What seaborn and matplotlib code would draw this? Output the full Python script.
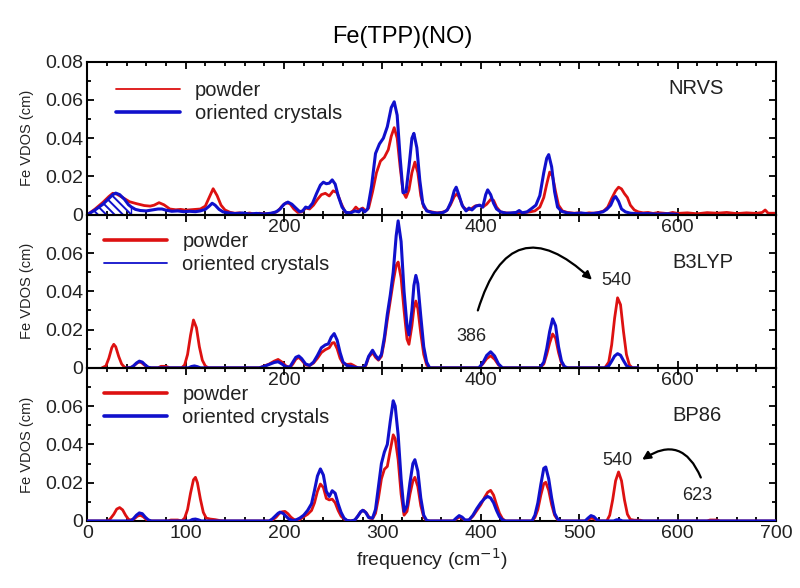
import numpy as np
import matplotlib
matplotlib.use("Agg")
import matplotlib.pyplot as plt
from matplotlib.lines import Line2D
from matplotlib.ticker import MultipleLocator
import seaborn as sns


# values: (frequency cm-1, Fe VDOS cm)

nrvs_powder = [
    (0, 0), (8, 0.003), (16, 0.0065), (22, 0.0095), (26, 0.0112), (30, 0.0108),
    (36, 0.009), (43, 0.0068), (50, 0.0058), (58, 0.0048), (64, 0.0045), (68, 0.005),
    (73, 0.0063), (78, 0.0052), (84, 0.003), (90, 0.0026), (95, 0.0028), (100, 0.0024),
    (105, 0.0026), (110, 0.0028), (115, 0.003), (120, 0.0045), (124, 0.009), (128, 0.0136),
    (132, 0.01), (136, 0.005), (140, 0.0025), (145, 0.0013), (150, 0.0008), (155, 0.001),
    (160, 0.0005), (165, 0.0009), (170, 0.0004), (175, 0.0008), (180, 0.0005), (185, 0.0006),
    (190, 0.001), (194, 0.002), (198, 0.0045), (202, 0.0062), (206, 0.0058), (210, 0.003),
    (214, 0.0012), (218, 0.0015), (222, 0.0035), (226, 0.003), (230, 0.005), (234, 0.008),
    (238, 0.0105), (242, 0.0112), (246, 0.0098), (250, 0.0125), (254, 0.0115), (258, 0.006),
    (262, 0.0015), (266, 0.0008), (270, 0.002), (273, 0.004), (276, 0.0025), (280, 0.0035),
    (283, 0.002), (286, 0.0035), (290, 0.012), (294, 0.022), (298, 0.028), (302, 0.03),
    (306, 0.034), (309, 0.041), (312, 0.0455), (315, 0.04), (318, 0.025), (321, 0.012),
    (324, 0.009), (327, 0.013), (330, 0.022), (333, 0.0275), (336, 0.022), (339, 0.01),
    (342, 0.004), (346, 0.002), (350, 0.0015), (355, 0.001), (360, 0.0012), (365, 0.002),
    (369, 0.005), (373, 0.0095), (376, 0.011), (379, 0.008), (382, 0.004), (386, 0.0025),
    (390, 0.003), (394, 0.0045), (398, 0.005), (402, 0.004), (406, 0.0055), (410, 0.008),
    (413, 0.0075), (416, 0.004), (420, 0.0015), (425, 0.001), (430, 0.0008), (435, 0.001),
    (440, 0.0005), (445, 0.0012), (450, 0.0015), (455, 0.002), (460, 0.004), (464, 0.009),
    (467, 0.016), (470, 0.0223), (473, 0.02), (476, 0.012), (479, 0.005), (483, 0.002),
    (488, 0.0012), (495, 0.0008), (500, 0.001), (505, 0.0006), (510, 0.001), (515, 0.0008),
    (520, 0.0012), (525, 0.002), (529, 0.004), (533, 0.0085), (537, 0.0125), (540, 0.0144),
    (543, 0.0135), (546, 0.011), (549, 0.009), (552, 0.005), (556, 0.0025), (560, 0.0015),
    (565, 0.001), (570, 0.0012), (575, 0.0007), (580, 0.0011), (590, 0.0006), (595, 0.0012),
    (600, 0.0007), (610, 0.001), (620, 0.0005), (630, 0.0011), (640, 0.0008), (650, 0.0012),
    (660, 0.0006), (670, 0.001), (680, 0.0007), (686, 0.0012), (689, 0.0025), (692, 0.0008),
    (700, 0.0008),
]

nrvs_crystal = [
    (0, 0), (8, 0.0025), (16, 0.0055), (22, 0.0085), (26, 0.0105), (29, 0.0113),
    (33, 0.0105), (38, 0.008), (42, 0.0052), (45, 0.004), (49, 0.0028), (54, 0.0022),
    (60, 0.002), (66, 0.0025), (72, 0.003), (76, 0.003), (80, 0.0024), (86, 0.0018),
    (92, 0.002), (98, 0.0016), (104, 0.0018), (110, 0.0016), (115, 0.002), (120, 0.0028),
    (124, 0.0045), (127, 0.006), (130, 0.005), (134, 0.0028), (138, 0.0015), (143, 0.001),
    (150, 0.0006), (158, 0.0009), (165, 0.0004), (172, 0.0007), (180, 0.0004), (187, 0.0008),
    (192, 0.0015), (196, 0.003), (200, 0.0055), (204, 0.0066), (208, 0.0055), (212, 0.0035),
    (216, 0.0016), (219, 0.002), (222, 0.004), (225, 0.0035), (229, 0.006), (233, 0.011),
    (237, 0.0155), (240, 0.017), (243, 0.0162), (246, 0.0165), (249, 0.0182), (252, 0.016),
    (255, 0.01), (259, 0.004), (263, 0.0012), (268, 0.001), (272, 0.002), (276, 0.0015),
    (279, 0.003), (282, 0.0015), (285, 0.003), (289, 0.015), (293, 0.032), (297, 0.037),
    (301, 0.04), (305, 0.046), (309, 0.056), (312, 0.059), (315, 0.052), (318, 0.03),
    (321, 0.0115), (324, 0.012), (327, 0.025), (330, 0.04), (332, 0.0425), (335, 0.035),
    (338, 0.018), (341, 0.006), (345, 0.002), (350, 0.0012), (356, 0.0008), (362, 0.0012),
    (366, 0.0025), (370, 0.007), (373, 0.0125), (375, 0.0144), (378, 0.01), (381, 0.005),
    (385, 0.002), (388, 0.0035), (391, 0.0025), (395, 0.0045), (399, 0.005), (402, 0.004),
    (405, 0.0105), (407, 0.013), (410, 0.0105), (413, 0.006), (416, 0.003), (420, 0.0015),
    (426, 0.0008), (432, 0.001), (436, 0.0012), (439, 0.0022), (442, 0.001), (447, 0.0015),
    (451, 0.003), (456, 0.005), (460, 0.01), (464, 0.022), (467, 0.0295), (469, 0.0314),
    (472, 0.025), (475, 0.012), (478, 0.004), (482, 0.0018), (488, 0.0009), (495, 0.0006),
    (502, 0.0009), (510, 0.0005), (518, 0.0009), (524, 0.0015), (528, 0.0028), (532, 0.005),
    (535, 0.0085), (537, 0.0095), (540, 0.007), (543, 0.003), (547, 0.0015), (552, 0.0008),
    (560, 0.0005), (570, 0.0006), (580, 0.0003), (590, 0.0005), (600, 0.0002),
]

b3lyp_powder = [
    (15, 0), (19, 0.001), (22, 0.005), (25, 0.0105), (27, 0.0123), (29, 0.011),
    (32, 0.006), (35, 0.002), (38, 0.0003), (42, 0), (46, 0.0005), (49, 0.0018),
    (52, 0.003), (55, 0.0028), (58, 0.0015), (61, 0.0004), (64, 0), (72, 0),
    (75, 0.0008), (80, 0.0008), (84, 0), (96, 0), (99, 0.0015), (102, 0.007),
    (105, 0.017), (108, 0.025), (111, 0.021), (114, 0.011), (117, 0.004), (120, 0.001),
    (123, 0), (175, 0), (180, 0.001), (185, 0.002), (190, 0.0035), (194, 0.0044),
    (198, 0.003), (202, 0.001), (206, 0.0002), (209, 0.002), (212, 0.0045), (215, 0.0055),
    (218, 0.004), (222, 0.0015), (226, 0.0012), (230, 0.0025), (234, 0.005), (238, 0.008),
    (242, 0.0095), (246, 0.0105), (249, 0.013), (251, 0.0132), (254, 0.01), (257, 0.005),
    (260, 0.0023), (264, 0.0018), (268, 0.002), (271, 0.0012), (275, 0), (279, 0),
    (283, 0.001), (286, 0.0055), (290, 0.008), (293, 0.0055), (296, 0.004), (299, 0.006),
    (302, 0.014), (305, 0.025), (308, 0.035), (311, 0.045), (314, 0.0535), (316, 0.0553),
    (319, 0.047), (322, 0.03), (325, 0.015), (327, 0.0123), (330, 0.022), (332, 0.031),
    (334, 0.0349), (336, 0.031), (339, 0.018), (342, 0.007), (345, 0.0015), (348, 0),
    (398, 0), (402, 0.002), (406, 0.0048), (410, 0.0063), (414, 0.0045), (418, 0.0015),
    (422, 0), (460, 0), (464, 0.002), (467, 0.007), (470, 0.013), (473, 0.0177),
    (476, 0.0155), (479, 0.008), (482, 0.0025), (485, 0.0005), (488, 0), (526, 0),
    (530, 0.003), (533, 0.012), (536, 0.026), (539, 0.0366), (542, 0.033), (545, 0.019),
    (548, 0.007), (551, 0.0015), (554, 0), (560, 0),
]

b3lyp_crystal = [
    (40, 0), (44, 0), (47, 0.001), (50, 0.0025), (53, 0.0035), (56, 0.003),
    (59, 0.0015), (62, 0.0003), (65, 0), (103, 0), (106, 0.0007), (109, 0.001),
    (112, 0.0006), (115, 0), (175, 0), (180, 0.0008), (185, 0.0018), (190, 0.0028),
    (194, 0.0032), (198, 0.002), (202, 0.0005), (206, 0.0005), (209, 0.003), (212, 0.0055),
    (215, 0.0062), (218, 0.0048), (222, 0.002), (226, 0.0013), (230, 0.003), (234, 0.0065),
    (238, 0.0105), (242, 0.012), (245, 0.0125), (248, 0.016), (251, 0.0179), (254, 0.0145),
    (257, 0.008), (260, 0.003), (264, 0.0012), (268, 0.0008), (272, 0.0003), (276, 0),
    (280, 0), (283, 0.0015), (286, 0.006), (290, 0.0092), (293, 0.0065), (296, 0.0045),
    (299, 0.007), (302, 0.016), (305, 0.028), (308, 0.038), (311, 0.05), (314, 0.069),
    (316, 0.0768), (319, 0.066), (322, 0.04), (325, 0.022), (327, 0.0172), (330, 0.03),
    (332, 0.043), (334, 0.0483), (336, 0.044), (339, 0.027), (342, 0.011), (345, 0.003),
    (348, 0), (398, 0), (402, 0.0025), (406, 0.0065), (410, 0.0084), (414, 0.0062),
    (418, 0.002), (422, 0), (460, 0), (464, 0.003), (467, 0.01), (470, 0.019),
    (473, 0.0256), (476, 0.022), (479, 0.011), (482, 0.0035), (485, 0.0007), (488, 0),
    (526, 0), (530, 0.001), (533, 0.0035), (536, 0.0062), (539, 0.0074), (542, 0.0066),
    (545, 0.0038), (548, 0.0012), (551, 0.0002), (554, 0), (560, 0),
]

bp86_powder = [
    (0, 0), (20, 0), (23, 0.0008), (27, 0.0035), (30, 0.0062), (33, 0.007),
    (36, 0.0058), (39, 0.003), (42, 0.0008), (45, 0.0005), (48, 0.0012), (51, 0.0025),
    (54, 0.003), (57, 0.0022), (60, 0.0008), (63, 0.0001), (66, 0), (82, 0),
    (85, 0.0005), (92, 0.0005), (96, 0), (99, 0.0015), (102, 0.006), (105, 0.0145),
    (108, 0.0215), (110, 0.0228), (112, 0.02), (115, 0.0115), (118, 0.0045), (121, 0.0015),
    (125, 0.001), (130, 0.0007), (135, 0.0002), (140, 0), (185, 0), (189, 0.0008),
    (192, 0.002), (195, 0.0038), (198, 0.0048), (201, 0.005), (204, 0.0038), (207, 0.002),
    (210, 0.0008), (213, 0.0003), (216, 0.0008), (220, 0.0022), (224, 0.0035), (228, 0.0055),
    (231, 0.0095), (234, 0.0155), (237, 0.0193), (240, 0.0175), (243, 0.0118), (246, 0.011),
    (249, 0.0114), (252, 0.0095), (255, 0.0055), (258, 0.0025), (261, 0.001), (264, 0.0002),
    (268, 0), (272, 0.0005), (275, 0.0025), (278, 0.0048), (281, 0.0055), (284, 0.004),
    (287, 0.0015), (290, 0.0012), (293, 0.004), (296, 0.012), (299, 0.022), (302, 0.027),
    (305, 0.0285), (308, 0.037), (311, 0.045), (313, 0.043), (316, 0.032), (319, 0.014),
    (322, 0.003), (325, 0.005), (328, 0.014), (331, 0.021), (333, 0.0228), (336, 0.018),
    (339, 0.008), (342, 0.002), (345, 0), (372, 0), (375, 0.001), (378, 0.002),
    (381, 0.0015), (384, 0.0003), (388, 0.0005), (392, 0.0025), (396, 0.0055), (400, 0.0085),
    (404, 0.0125), (407, 0.015), (410, 0.016), (413, 0.0135), (416, 0.0085), (419, 0.004),
    (422, 0.0012), (425, 0), (452, 0), (455, 0.0018), (458, 0.006), (461, 0.0135),
    (464, 0.0195), (466, 0.0202), (469, 0.016), (472, 0.0085), (475, 0.003), (478, 0.0007),
    (481, 0), (506, 0), (509, 0.0008), (512, 0.0015), (515, 0.0012), (518, 0.0003),
    (521, 0), (528, 0), (531, 0.003), (534, 0.011), (537, 0.021), (540, 0.0256),
    (543, 0.021), (546, 0.011), (549, 0.0035), (552, 0.0008), (556, 0.0004), (562, 0.0004),
    (565, 0), (630, 0), (633, 0.0005), (640, 0.0005), (643, 0), (700, 0),
]

bp86_crystal = [
    (0, 0), (44, 0), (47, 0.0012), (50, 0.003), (53, 0.0042), (56, 0.0038),
    (59, 0.002), (62, 0.0006), (65, 0), (104, 0), (107, 0.0008), (110, 0.001),
    (113, 0.0006), (116, 0), (185, 0), (188, 0.001), (191, 0.0025), (194, 0.004),
    (196, 0.0046), (199, 0.004), (202, 0.0025), (205, 0.001), (209, 0.0002), (212, 0.0005),
    (216, 0.0015), (220, 0.003), (224, 0.0055), (228, 0.009), (231, 0.016), (234, 0.0235),
    (237, 0.0272), (240, 0.024), (243, 0.0155), (246, 0.0128), (249, 0.0158), (252, 0.0145),
    (255, 0.009), (258, 0.0045), (261, 0.0015), (264, 0.0003), (268, 0), (272, 0.0005),
    (275, 0.0025), (278, 0.0048), (280, 0.0056), (283, 0.0045), (286, 0.0018), (290, 0.0015),
    (293, 0.006), (296, 0.018), (299, 0.03), (302, 0.036), (305, 0.04), (308, 0.052),
    (311, 0.0628), (313, 0.06), (316, 0.045), (319, 0.022), (322, 0.005), (325, 0.008),
    (328, 0.02), (331, 0.03), (333, 0.032), (336, 0.026), (339, 0.012), (342, 0.003),
    (345, 0.0003), (348, 0), (372, 0), (375, 0.0015), (378, 0.0028), (381, 0.002),
    (384, 0.0005), (388, 0.0005), (392, 0.003), (396, 0.0065), (400, 0.0095), (404, 0.0118),
    (407, 0.0128), (410, 0.012), (413, 0.0095), (416, 0.0055), (419, 0.0022), (422, 0.0006),
    (425, 0), (452, 0), (455, 0.003), (458, 0.0095), (461, 0.019), (464, 0.0275),
    (466, 0.0282), (469, 0.022), (472, 0.012), (475, 0.004), (478, 0.001), (481, 0),
    (506, 0), (509, 0.0015), (512, 0.0028), (515, 0.0022), (518, 0.0006), (521, 0),
    (535, 0), (538, 0.0006), (541, 0.0006), (544, 0), (700, 0),
]

panel_names = ["NRVS", "B3LYP", "BP86"]
series_labels = ["powder", "oriented crystals"]
yticks = [0, 0.02, 0.04, 0.06, 0.08]
ytick_labels = ["0", "0.02", "0.04", "0.06", "0.08"]
xticks = [0, 100, 200, 300, 400, 500, 600, 700]
hatch_limit = 45   # upper end of the hatched low-frequency region in the NRVS panel


red = "#dd1111"
blue = "#1010cc"
txt = "#222222"

sns.set_theme(style="ticks")
plt.rcParams["font.family"] = ["Liberation Sans", "DejaVu Sans"]
plt.rcParams["hatch.linewidth"] = 1.4
plt.rcParams["axes.linewidth"] = 1.5

fig = plt.figure(figsize=(8, 5.88), dpi=100)

panel_data = [(nrvs_powder, nrvs_crystal), (b3lyp_powder, b3lyp_crystal), (bp86_powder, bp86_crystal)]
legend_lw = [(1.3, 2.6), (2.6, 1.3), (2.6, 2.6)]
legend_pos = [(0.042, 0.872), (0.024, 0.885), (0.024, 0.888)]
h = 0.2604
bottoms = [0.114 + 2 * h, 0.114 + h, 0.114]

for i, (name, (pw, cr)) in enumerate(zip(panel_names, panel_data)):
    ax = fig.add_axes([0.109, bottoms[i], 0.861, h])
    ax.set_facecolor("none")
    pw = np.array(pw)
    cr = np.array(cr)
    z = 3 if i == 2 else 2
    sns.lineplot(x=pw[:, 0], y=pw[:, 1], ax=ax, color=red, lw=2.0, sort=False,
                 estimator=None, legend=False, zorder=z)
    sns.lineplot(x=cr[:, 0], y=cr[:, 1], ax=ax, color=blue, lw=2.2, sort=False,
                 estimator=None, legend=False, zorder=z)
    if i == 0:
        m = cr[:, 0] <= hatch_limit
        ax.fill_between(cr[m, 0], 0, cr[m, 1], facecolor="none", edgecolor=blue,
                        hatch="\\\\\\\\", lw=1.0)

    ax.set_xlim(0, 700)
    ax.set_ylim(0, 0.08)
    ax.set_xticks(xticks)
    if i == 2:
        ax.set_xticklabels([str(t) for t in xticks])
        ax.set_xlabel("frequency (cm$^{-1}$)", fontsize=14, color=txt, labelpad=3)
    else:
        ax.set_xticklabels([str(t) if t in (200, 400, 600) else "" for t in xticks])
        ax.set_xlabel("")
    ax.xaxis.set_minor_locator(MultipleLocator(20))
    ax.set_yticks(yticks)
    labs = list(ytick_labels)
    if i > 0:
        labs[-1] = ""
    ax.set_yticklabels(labs)
    ax.yaxis.set_minor_locator(MultipleLocator(0.01))
    ax.tick_params(which="both", direction="in", top=True, right=True,
                   width=1.3, color="black", labelsize=14, labelcolor=txt, pad=3)
    ax.tick_params(which="major", length=5)
    ax.tick_params(which="minor", length=3)
    for s in ax.spines.values():
        s.set_color("black")
        s.set_linewidth(1.5)
    ax.set_ylabel("Fe VDOS (cm)", fontsize=10.5, color=txt)
    ax.yaxis.set_label_coords(-0.077, 0.5)

    handles = [Line2D([], [], color=red, lw=legend_lw[i][0]),
               Line2D([], [], color=blue, lw=legend_lw[i][1])]
    ax.legend(handles, series_labels, loc="upper left", bbox_to_anchor=legend_pos[i],
              frameon=False, fontsize=14.5, handlelength=3.15, handletextpad=0.75,
              labelspacing=0.2, borderpad=0, borderaxespad=0, labelcolor=txt)

    name_y = [0.0662, 0.055, 0.0549][i]
    ax.text(591 if i == 0 else 595, name_y, name, fontsize=14.5, color=txt, va="center")

    if i == 1:
        ax.text(390, 0.0162, "386", fontsize=13, color=txt, ha="center", va="center")
        ax.text(538, 0.0454, "540", fontsize=13, color=txt, ha="center", va="center")
        ax.annotate("", xy=(513, 0.046), xytext=(397, 0.030),
                    arrowprops=dict(arrowstyle="-|>", color="black", lw=1.6,
                                    mutation_scale=12, shrinkA=0, shrinkB=0,
                                    connectionstyle="arc3,rad=-0.8"))
    if i == 2:
        ax.text(538.5, 0.0318, "540", fontsize=13, color=txt, ha="center", va="center")
        ax.text(620, 0.0131, "623", fontsize=13, color=txt, ha="center", va="center")
        ax.annotate("", xy=(564, 0.032), xytext=(623.6, 0.0227),
                    arrowprops=dict(arrowstyle="-|>", color="black", lw=1.6,
                                    mutation_scale=12, shrinkA=0, shrinkB=0,
                                    connectionstyle="arc3,rad=0.6"))

fig.text(0.503, 0.937, "Fe(TPP)(NO)", fontsize=17, color="black", ha="center", va="center")

fig.savefig("out.png", dpi=100)
